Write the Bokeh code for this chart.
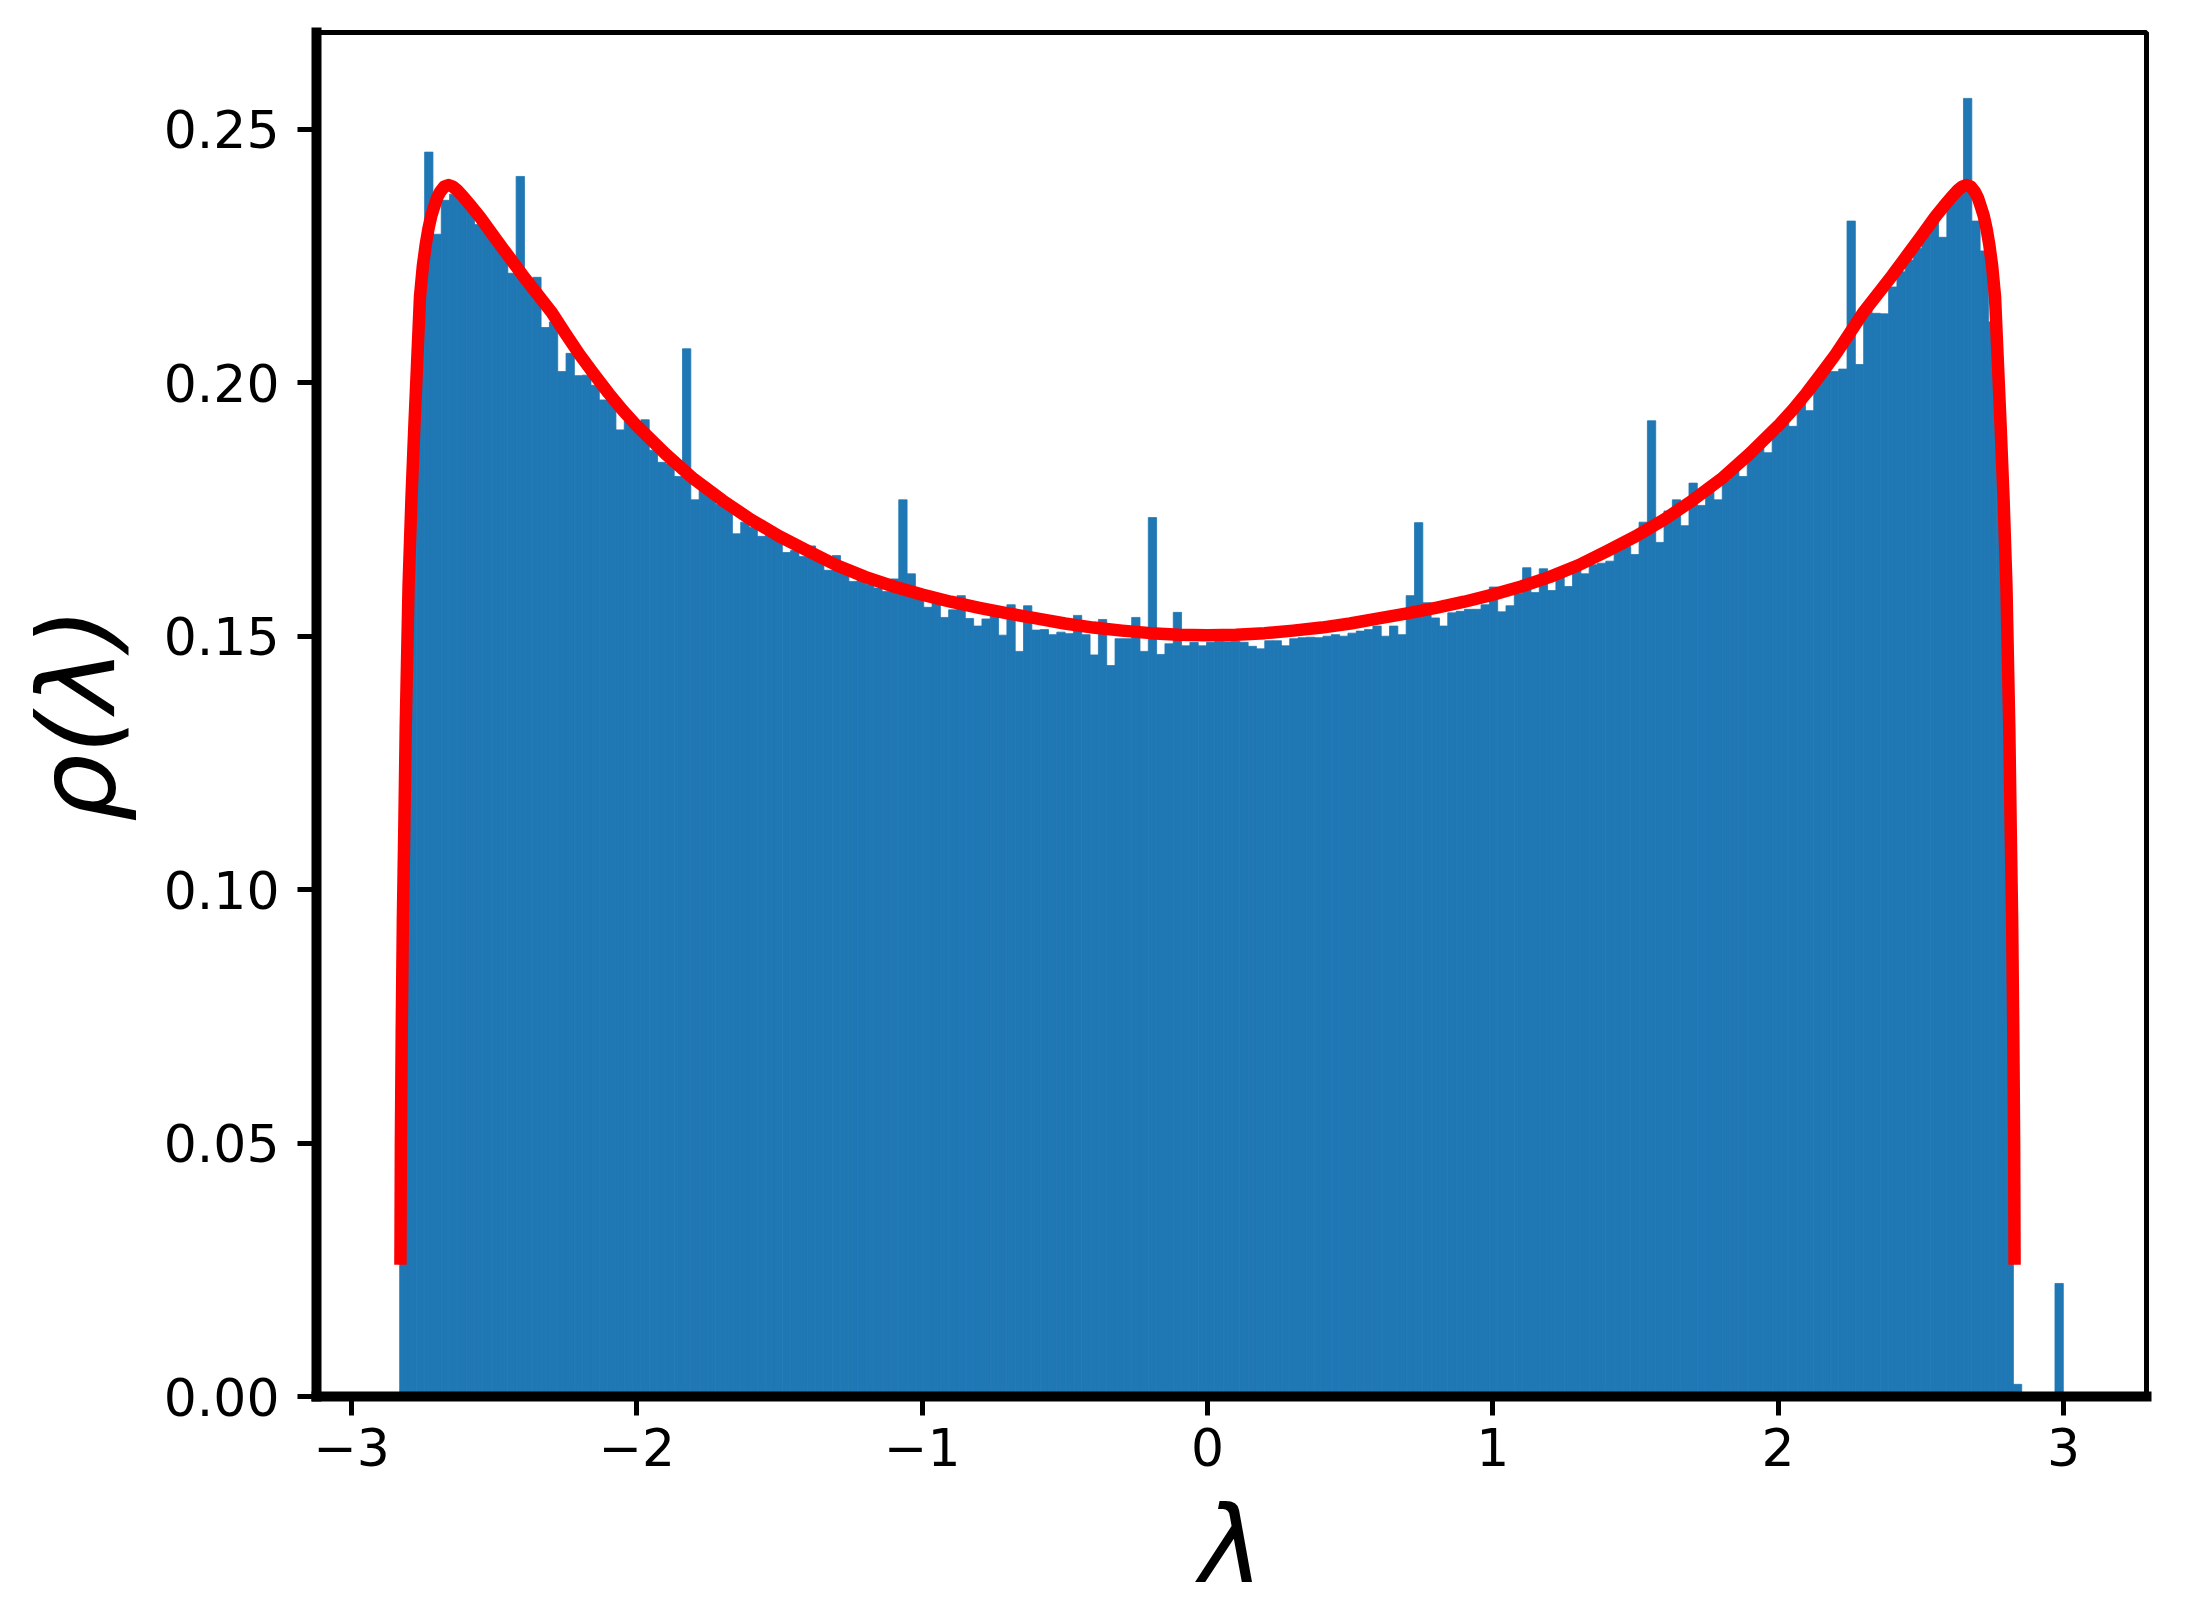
import numpy as np
from bokeh.plotting import figure
from bokeh.models import Range1d, FixedTicker
from bokeh.embed import file_html
from bokeh.resources import INLINE

# ---------------- data ----------------
HIST_MIN = -2.8312
HIST_MAX = 2.9993
N_BINS = 200

density = [
    0.1000, 0.1830, 0.2160, 0.2455, 0.2293, 0.2360, 0.2372, 0.2360, 0.2340, 0.2312,
    0.2300, 0.2275, 0.2255, 0.2216, 0.2407, 0.2190, 0.2208, 0.2109, 0.2120, 0.2022,
    0.2058, 0.2014, 0.2015, 0.1995, 0.1966, 0.1965, 0.1907, 0.1925, 0.1914, 0.1927,
    0.1867, 0.1843, 0.1840, 0.1815, 0.2067, 0.1769, 0.1792, 0.1775, 0.1760, 0.1750,
    0.1702, 0.1725, 0.1715, 0.1697, 0.1700, 0.1690, 0.1665, 0.1669, 0.1657, 0.1678,
    0.1648, 0.1630, 0.1659, 0.1628, 0.1608, 0.1611, 0.1602, 0.1595, 0.1588, 0.1613,
    0.1769, 0.1623, 0.1579, 0.1557, 0.1569, 0.1537, 0.1552, 0.1580, 0.1535, 0.1520,
    0.1534, 0.1556, 0.1502, 0.1562, 0.1470, 0.1560, 0.1512, 0.1513, 0.1503, 0.1508,
    0.1505, 0.1541, 0.1503, 0.1463, 0.1533, 0.1442, 0.1495, 0.1495, 0.1537, 0.1470,
    0.1734, 0.1464, 0.1485, 0.1547, 0.1481, 0.1488, 0.1481, 0.1488, 0.1490, 0.1489,
    0.1490, 0.1488, 0.1480, 0.1475, 0.1491, 0.1491, 0.1481, 0.1495, 0.1497, 0.1498,
    0.1497, 0.1500, 0.1503, 0.1500, 0.1506, 0.1510, 0.1513, 0.1520, 0.1500, 0.1520,
    0.1503, 0.1580, 0.1724, 0.1566, 0.1536, 0.1520, 0.1546, 0.1549, 0.1553, 0.1553,
    0.1562, 0.1597, 0.1548, 0.1560, 0.1584, 0.1635, 0.1586, 0.1633, 0.1590, 0.1624,
    0.1598, 0.1630, 0.1623, 0.1641, 0.1644, 0.1648, 0.1671, 0.1677, 0.1661, 0.1725,
    0.1925, 0.1685, 0.1747, 0.1769, 0.1718, 0.1802, 0.1758, 0.1789, 0.1769, 0.1808,
    0.1828, 0.1815, 0.1855, 0.1874, 0.1862, 0.1900, 0.1920, 0.1914, 0.1960, 0.1945,
    0.2014, 0.2025, 0.2022, 0.2027, 0.2319, 0.2036, 0.2151, 0.2137, 0.2136, 0.2189,
    0.2219, 0.2242, 0.2265, 0.2291, 0.2327, 0.2287, 0.2355, 0.2380, 0.2561, 0.2319,
    0.2260, 0.2120, 0.1900, 0.1300, 0.0024, 0.0000, 0.0000, 0.0000, 0.0000, 0.0223,
]

curve_lambda = [
    -2.8285, -2.827, -2.824, -2.820, -2.815, -2.810, -2.800, -2.790, -2.780, -2.770,
    -2.760, -2.750, -2.740, -2.730, -2.720, -2.710, -2.700, -2.690, -2.675, -2.660,
    -2.645, -2.630, -2.610, -2.580, -2.550, -2.500, -2.450, -2.400, -2.350, -2.300,
    -2.250, -2.200, -2.150, -2.100, -2.050, -2.000, -1.900, -1.800, -1.700, -1.600,
    -1.500, -1.400, -1.300, -1.200, -1.100, -1.000, -0.900, -0.800, -0.700, -0.600,
    -0.500, -0.400, -0.300, -0.200, -0.100, 0.000, 0.100, 0.200, 0.300, 0.400,
    0.500, 0.600, 0.700, 0.800, 0.900, 1.000, 1.100, 1.200, 1.300, 1.400,
    1.500, 1.600, 1.700, 1.800, 1.900, 2.000, 2.050, 2.100, 2.150, 2.200,
    2.250, 2.300, 2.350, 2.400, 2.450, 2.500, 2.550, 2.580, 2.610, 2.630,
    2.645, 2.660, 2.675, 2.690, 2.700, 2.710, 2.720, 2.730, 2.740, 2.750,
    2.760, 2.770, 2.780, 2.790, 2.800, 2.810, 2.815, 2.820, 2.824, 2.827,
    2.8285,
]
curve_rho = [
    0.0260, 0.0500, 0.0720, 0.0940, 0.1120, 0.1320, 0.1600, 0.1770, 0.1910, 0.2040,
    0.2170, 0.2230, 0.2272, 0.2305, 0.2330, 0.2348, 0.2365, 0.2376, 0.2387, 0.2390,
    0.2387, 0.2380, 0.2368, 0.2348, 0.2327, 0.2288, 0.2250, 0.2212, 0.2176, 0.2140,
    0.2097, 0.2055, 0.2017, 0.1980, 0.1946, 0.1915, 0.1860, 0.1810, 0.1768, 0.1730,
    0.1697, 0.1668, 0.1640, 0.1617, 0.1598, 0.1582, 0.1568, 0.1556, 0.1545, 0.1535,
    0.1525, 0.1517, 0.1511, 0.1506, 0.1503, 0.1502, 0.1503, 0.1506, 0.1511, 0.1517,
    0.1525, 0.1535, 0.1545, 0.1556, 0.1568, 0.1582, 0.1598, 0.1617, 0.1640, 0.1668,
    0.1697, 0.1730, 0.1768, 0.1810, 0.1860, 0.1915, 0.1946, 0.1980, 0.2017, 0.2055,
    0.2097, 0.2140, 0.2176, 0.2212, 0.2250, 0.2288, 0.2327, 0.2348, 0.2368, 0.2380,
    0.2387, 0.2390, 0.2387, 0.2376, 0.2365, 0.2348, 0.2330, 0.2305, 0.2272, 0.2230,
    0.2170, 0.2040, 0.1910, 0.1770, 0.1600, 0.1320, 0.1120, 0.0940, 0.0720, 0.0500,
    0.0260,
]

x_ticks = [-3, -2, -1, 0, 1, 2, 3]
x_tick_labels = ["\u22123", "\u22122", "\u22121", "0", "1", "2", "3"]
y_ticks = [0.0, 0.05, 0.10, 0.15, 0.20, 0.25]
y_tick_labels = ["0.00", "0.05", "0.10", "0.15", "0.20", "0.25"]

x_label = "\u03bb"
y_label = "\u03c1(\u03bb)"

# ---------------- figure ----------------
edges = np.linspace(HIST_MIN, HIST_MAX, N_BINS + 1)

p = figure(
    width=2180, height=1609,
    output_backend="svg", toolbar_location=None,
    x_range=Range1d(-3.1227, 3.2909), y_range=Range1d(0.0, 0.2691),
    min_border_left=316, min_border_top=32, min_border_right=34, min_border_bottom=211,
    background_fill_color="white", border_fill_color="white",
)

BLUE = "#1f77b4"
p.quad(left=edges[:-1], right=edges[1:], bottom=0.0, top=density,
       fill_color=BLUE, line_color=BLUE, line_width=0.8)

p.line(curve_lambda, curve_rho, line_color="#ff0000", line_width=12.5,
       line_join="round", line_cap="butt")

p.xgrid.visible = False
p.ygrid.visible = False

p.outline_line_color = "black"
p.outline_line_width = 5
p.outline_line_alpha = 1.0

p.xaxis.ticker = FixedTicker(ticks=x_ticks)
p.yaxis.ticker = FixedTicker(ticks=y_ticks)
p.xaxis.major_label_overrides = {t: s for t, s in zip(x_ticks, x_tick_labels)}
p.yaxis.major_label_overrides = {t: s for t, s in zip(y_ticks, y_tick_labels)}

p.xaxis.axis_label = x_label
p.yaxis.axis_label = y_label

for ax in (p.xaxis[0], p.yaxis[0]):
    ax.axis_line_width = 10
    ax.axis_line_color = "black"
    ax.axis_line_cap = "square"
    ax.major_tick_out = 19
    ax.major_tick_in = 0
    ax.major_tick_line_width = 5
    ax.major_tick_line_color = "black"
    ax.minor_tick_out = 0
    ax.minor_tick_in = 0
    ax.major_label_text_font = "DejaVu Sans"
    ax.major_label_text_font_size = "52px"
    ax.major_label_text_color = "black"
    ax.axis_label_text_font = "DejaVu Sans"
    ax.axis_label_text_font_style = "italic"
    ax.axis_label_text_font_size = "107px"
    ax.axis_label_text_color = "black"

p.xaxis.major_label_standoff = 12
p.xaxis.axis_label_standoff = 14
p.yaxis.major_label_standoff = 18
p.yaxis.axis_label_standoff = 22

open("out.html", "w").write(file_html(p, INLINE))
